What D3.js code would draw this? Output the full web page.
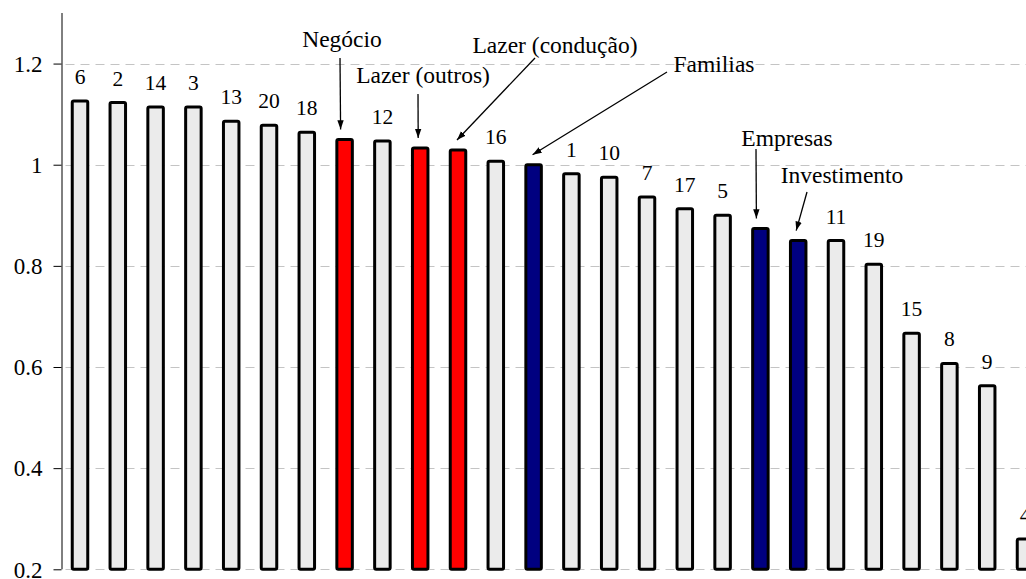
<!DOCTYPE html>
<html>
<head>
<meta charset="utf-8">
<script src="https://cdn.jsdelivr.net/npm/d3@7"></script>
<style>
  html, body { margin: 0; padding: 0; background: #ffffff; }
  svg { display: block; }
  svg text { font-family: "Liberation Serif", "Times New Roman", "DejaVu Serif", serif; }
</style>
</head>
<body>
<svg id="chart" width="1026" height="579"></svg>
<script>
// ---------- data ----------
const categories = ["6","2","14","3","13","20","18","Negócio","12","Lazer (outros)","Lazer (condução)","16","Familias","1","10","7","17","5","Empresas","Investimento","11","19","15","8","9","4"];
const values = [1.126,1.123,1.114,1.114,1.086,1.078,1.064,1.050,1.047,1.033,1.029,1.007,1.000,0.982,0.975,0.936,0.913,0.900,0.874,0.850,0.850,0.803,0.667,0.607,0.563,0.260];
const groups = ["region","region","region","region","region","region","region","lazer","region","lazer","lazer","region","familia","region","region","region","region","region","familia","familia","region","region","region","region","region","region"];
const yTicks = [0.2, 0.4, 0.6, 0.8, 1, 1.2];
const yTickLabels = ["0.2","0.4","0.6","0.8","1","1.2"];

// ---------- layout / style ----------
const W = 1026, H = 579;
const FONT = "Liberation Serif, Times New Roman, DejaVu Serif, serif";
const axisX = 61.5;
const yTop = 13, yBottom = 569.3;
const step = 37.8, barW = 15.5;
const firstCenter = 80;
const pi = 1 - barW / step;
const po = (firstCenter - barW / 2 - axisX) / step;
const rangeLen = step * (categories.length - pi + 2 * po);

const colors = { region: "#ebebeb", lazer: "#ff0000", familia: "#000080" };

// annotation placement (pixels): text centre/baseline, arrow start, arrow tip x offset from bar centre
const annotLayout = {
  "Negócio":          { tx: 342, ty: 47, sx: 340, sy: 58,  dx: -4 },
  "Lazer (outros)":   { tx: 423, ty: 83, sx: 418, sy: 94,  dx: -2 },
  "Lazer (condução)": { tx: 555, ty: 53, sx: 535, sy: 58,  dx: -1 },
  "Familias":         { tx: 714, ty: 72, sx: 667, sy: 72,  dx: -1 },
  "Empresas":         { tx: 787, ty: 146, sx: 756, sy: 149, dx: -4 },
  "Investimento":     { tx: 842, ty: 183, sx: 807, sy: 192, dx: -2 }
};

const svg = d3.select("#chart");

const x = d3.scaleBand()
  .domain(categories)
  .range([axisX, axisX + rangeLen])
  .paddingInner(pi)
  .paddingOuter(po)
  .align(0.5);

const y = d3.scaleLinear().domain([0.2, 1.3]).range([yBottom, yTop]);

// gridlines
svg.append("g").selectAll("line")
  .data(yTicks)
  .join("line")
  .attr("x1", axisX + 4)
  .attr("x2", W)
  .attr("y1", d => Math.round(y(d)) + 0.5)
  .attr("y2", d => Math.round(y(d)) + 0.5)
  .attr("stroke", "#c4c4c4")
  .attr("stroke-width", 1)
  .attr("stroke-dasharray", "9,6");

// y axis
const yAxis = d3.axisLeft(y)
  .tickValues(yTicks)
  .tickFormat((d, i) => yTickLabels[i])
  .tickSizeInner(8)
  .tickSizeOuter(0)
  .tickPadding(11);

const ag = svg.append("g")
  .attr("transform", `translate(${axisX},0)`)
  .call(yAxis)
  .attr("font-family", null)
  .attr("font-size", null);
ag.select(".domain").attr("stroke", "#000").attr("stroke-width", 1)
  .attr("d", `M0.5,${yTop}V${yBottom}`);
ag.selectAll(".tick line").attr("stroke", "#000").attr("stroke-width", 1);
ag.selectAll(".tick text")
  .style("font-family", FONT)
  .style("font-size", "23px")
  .attr("fill", "#000")
  .attr("dy", "0.34em");

// bars
svg.append("g").selectAll("rect")
  .data(categories)
  .join("rect")
  .attr("x", d => x(d))
  .attr("width", x.bandwidth())
  .attr("y", (d, i) => y(values[i]))
  .attr("height", (d, i) => y(0.2) - y(values[i]))
  .attr("rx", 1.5)
  .attr("fill", (d, i) => colors[groups[i]])
  .attr("stroke", "#000")
  .attr("stroke-width", 3);

// numeric labels
svg.append("g").selectAll("text")
  .data(categories.filter(c => !annotLayout[c]))
  .join("text")
  .attr("x", d => x(d) + x.bandwidth() / 2)
  .attr("y", d => y(values[categories.indexOf(d)]) - 17)
  .attr("text-anchor", "middle")
  .style("font-family", FONT)
  .style("font-size", "21.5px")
  .attr("fill", "#000")
  .text(d => d);

// arrow marker
svg.append("defs").append("marker")
  .attr("id", "arrow")
  .attr("viewBox", "0 0 10 10")
  .attr("refX", 10).attr("refY", 5)
  .attr("markerWidth", 7).attr("markerHeight", 7)
  .attr("markerUnits", "strokeWidth")
  .attr("orient", "auto")
  .append("path")
  .attr("d", "M0,1.5 L10,5 L0,8.5 Z")
  .attr("fill", "#000");

const annots = categories.filter(c => annotLayout[c]);
const an = svg.append("g");
an.selectAll("line")
  .data(annots)
  .join("line")
  .attr("x1", d => annotLayout[d].sx)
  .attr("y1", d => annotLayout[d].sy)
  .attr("x2", d => x(d) + x.bandwidth() / 2 + annotLayout[d].dx)
  .attr("y2", d => y(values[categories.indexOf(d)]) - 10)
  .attr("stroke", "#000")
  .attr("stroke-width", 1.3)
  .attr("marker-end", "url(#arrow)");
an.selectAll("text")
  .data(annots)
  .join("text")
  .attr("x", d => annotLayout[d].tx)
  .attr("y", d => annotLayout[d].ty)
  .attr("text-anchor", "middle")
  .style("font-family", FONT)
  .style("font-size", "23.5px")
  .attr("fill", "#000")
  .text(d => d);
</script>
</body>
</html>
